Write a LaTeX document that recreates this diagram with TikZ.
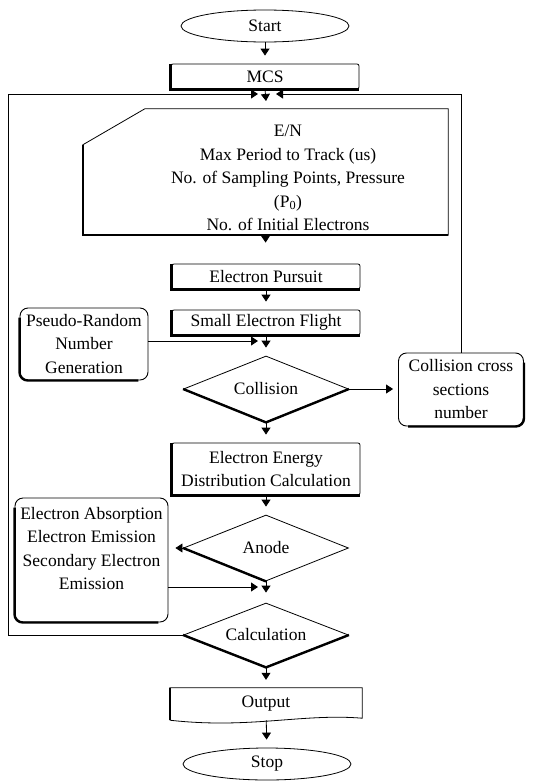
\documentclass[tikz,border=0pt]{standalone}
\usepackage{fontspec}
\setmainfont{Liberation Serif}
\usetikzlibrary{shapes.geometric,arrows.meta,calc}

\begin{document}
\begin{tikzpicture}[x=1pt,y=-1pt,
    every node/.style={font=\fontsize{17.5}{23.5}\selectfont, align=center},
    line/.style={line width=0.8pt},
    heavy/.style={line width=2.4pt},
    arr/.style={line width=0.8pt, -{Triangle[length=7pt,width=9pt]}},
    flow/.style={arr, shorten >=8pt},
    terminal/.style={draw, ellipse, line width=0.8pt, minimum width=168pt, minimum height=32pt, inner sep=0pt},
    procbox/.style={draw, rectangle, rounded corners=2pt, line width=0.8pt, minimum width=188pt, minimum height=25pt, inner sep=0pt},
    softbox/.style={draw, rectangle, rounded corners=8pt, line width=0.9pt, inner sep=0pt},
    decision/.style={draw, diamond, aspect=2.5, line width=0.8pt, minimum width=165pt, minimum height=66pt, inner sep=0pt},
  ]

    \useasboundingbox (0,0) rectangle (544,782);

    % --- Main column ---
    \node[terminal] (start) at (265,26) {Start};
    \node[procbox] (mcs) at (265,76.5) {MCS};

    % manual input block (frame and text)
    \node[minimum width=365pt, minimum height=126pt, inner sep=0pt] (inbox) at (265.5,172) {};
    \node (intext) at (288,178) {E/N\\Max Period to Track (us)\\No. of Sampling Points, Pressure\\(P\textsubscript{0})\\No. of Initial Electrons};

    \node[procbox] (pursuit) at (266,276.5) {Electron Pursuit};
    \node[procbox] (flight) at (266,322.5) {Small Electron Flight};
    \node[decision] (coll) at (266,389) {Collision};
    \node[procbox, minimum height=52pt] (energy) at (266,469) {Electron Energy\\Distribution Calculation};
    \node[decision] (anode) at (266,548) {Anode};
    \node[decision, minimum height=64pt] (calc) at (266,635) {Calculation};
    \node[minimum width=192pt, minimum height=32pt, inner sep=0pt] (output) at (266,704) {Output};
    \node[terminal] (stop) at (267,764) {Stop};

    % --- Side boxes ---
    \node[softbox, minimum width=128pt, minimum height=72pt] (pseudo) at (84,344) {Pseudo-Random\\Number\\Generation};
    \node[softbox, minimum width=125pt, minimum height=73pt] (cross) at (461,389.5) {Collision cross\\sections\\number};
    \node[softbox, minimum width=153pt, minimum height=124pt] (absorb) at (91.5,560) {Electron Absorption\\Electron Emission\\Secondary Electron\\Emission\\ \mbox{}};

    % --- Junction points ---
    \coordinate (jd) at (266,101);
    \coordinate (jl) at (258,94);
    \coordinate (jr) at (276,94);
    \coordinate (lc) at (8,94);
    \coordinate (fj) at (258,341);
    \coordinate (aj) at (258,587);

    % --- Shapes drawn by hand ---
    \draw[line] ($(inbox.north west)+(0,36)$) -- ($(inbox.north west)+(62,0)$) -- (inbox.north east)
        -- (inbox.south east) -- (inbox.south west) -- cycle;
    \draw[line] (output.south west) -- (output.north west) -- (output.north east) -- ($(output.south east)+(0,-2)$)
        .. controls ($(output.south east)+(-60,-7)$) and ($(output.south west)+(80,9)$) .. (output.south west);

    % shadow edges
    \foreach \n in {mcs,pursuit,flight,energy}
        \draw[heavy] (\n.north west) -- (\n.south west) -- (\n.south east);
    \draw[heavy] ($(inbox.north west)+(0,36)$) -- (inbox.south west) -- (inbox.south east);
    \draw[heavy] (output.north west) -- (output.south west);
    \draw[heavy] (coll.west) -- (coll.south) -- (coll.east);
    \draw[heavy] (anode.west) -- (anode.south);
    \draw[heavy] (calc.west) -- (calc.south) -- (calc.east);
    \draw[heavy, rounded corners=8pt] ($(pseudo.north west)+(0,10)$) -- (pseudo.south west) -- ($(pseudo.south east)+(-10,0)$);
    \draw[heavy, rounded corners=8pt] ($(absorb.north west)+(0,10)$) -- (absorb.south west) -- ($(absorb.south east)+(-10,0)$);
    \draw[heavy, rounded corners=8pt] ($(cross.south west)+(10,0)$) -- (cross.south east) -- ($(cross.north east)+(0,10)$);

    % --- Connectors ---
    \draw[flow] (start) -- (mcs);
    \draw[arr] (mcs.south) -- (jd);
    \draw[flow, shorten >=21pt] (inbox.south) -- (pursuit.north);
    \draw[flow] (pursuit) -- (flight);
    \draw[flow] (flight) -- (coll);
    \draw[flow] (coll) -- (energy);
    \draw[flow] (energy) -- (anode);
    \draw[flow, shorten >=10pt] (anode) -- (calc);
    \draw[flow] (calc) -- (output);
    \draw[flow] (output) -- (stop);

    \draw[arr] (pseudo.east |- fj) -- (fj);
    \draw[arr, shorten >=5pt] (coll.east) -- (coll.east -| cross.west);
    \draw[arr, shorten >=7pt] (anode.west) -- (anode.west -| absorb.east);
    \draw[arr] (absorb.east |- aj) -- (aj);

    % loop back to the top
    \draw[arr] (cross.north) |- (jr);
    \draw[arr] (calc.west) -| (lc) -- (jl);

\end{tikzpicture}
\end{document}
